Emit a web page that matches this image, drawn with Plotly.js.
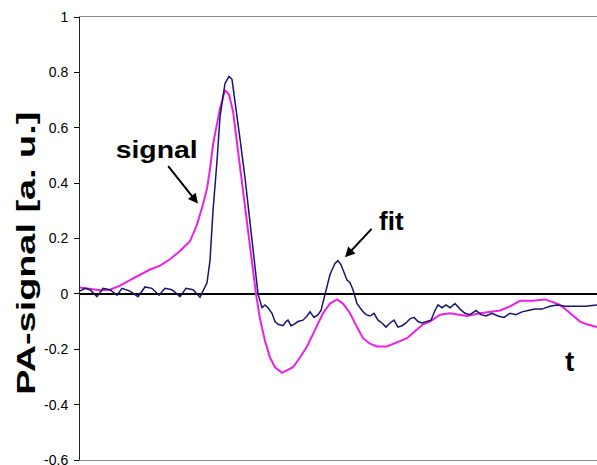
<!DOCTYPE html>
<html>
<head>
<meta charset="utf-8">
<script src="https://cdn.plot.ly/plotly-3.0.1.min.js"></script>
<style>
html,body{margin:0;padding:0;background:#fff;}
#chart{width:597px;height:465px;}
</style>
</head>
<body>
<div id="chart"></div>
<script>
// time axis (arbitrary units) and PA signals
var tSignal = [0,10,20,30,40,50,60,70,80,90,100,110,117,122,127,130,133,137,140,145,149,153,158,163,168,173,176,180,185,190,195,202,208,213,220,227,235,243,250,257,263,270,277,283,290,297,307,317,327,335,343,350,360,370,380,387,400,410,420,430,440,453,465,473,480,487,493,500,507,517];
var signalValues = [0.023,0.018,0.013,0.015,0.03,0.05,0.07,0.088,0.102,0.125,0.155,0.19,0.25,0.31,0.38,0.45,0.54,0.62,0.67,0.736,0.72,0.66,0.52,0.38,0.24,0.09,0.0,-0.09,-0.17,-0.23,-0.265,-0.285,-0.275,-0.265,-0.23,-0.19,-0.13,-0.07,-0.035,-0.02,-0.035,-0.07,-0.12,-0.16,-0.18,-0.19,-0.19,-0.175,-0.16,-0.135,-0.11,-0.10,-0.075,-0.07,-0.075,-0.08,-0.07,-0.065,-0.06,-0.045,-0.025,-0.025,-0.02,-0.03,-0.04,-0.06,-0.08,-0.10,-0.11,-0.12];

var tFit = [0,5,10,17,23,30,37,42,50,58,65,72,79,85,92,100,106,113,120,124,127,130,133,137,140,145,149,152,155,160,165,170,174,178,182,185,188,192,195,198,203,206,208,211,214,218,223,227,230,234,238,241,245,250,255,258,261,264,267,270,273,277,282,286,290,294,298,302,306,310,314,318,322,326,330,334,338,342,347,351,355,358,362,366,370,375,380,385,390,396,401,406,412,418,424,430,436,442,448,455,462,470,477,485,495,505,517];
var fitValues = [0.01,0.02,0.015,-0.01,0.02,0.015,-0.005,0.02,0.01,-0.01,0.025,0.02,-0.005,0.02,0.015,-0.01,0.02,0.015,-0.012,0.02,0.04,0.12,0.30,0.48,0.64,0.76,0.785,0.775,0.70,0.56,0.42,0.27,0.13,0.0,-0.05,-0.04,-0.05,-0.07,-0.10,-0.11,-0.115,-0.10,-0.095,-0.115,-0.11,-0.10,-0.095,-0.08,-0.065,-0.085,-0.075,-0.06,-0.005,0.07,0.11,0.12,0.105,0.08,0.05,0.04,0.015,-0.035,-0.06,-0.075,-0.08,-0.07,-0.095,-0.105,-0.12,-0.105,-0.095,-0.12,-0.115,-0.105,-0.09,-0.085,-0.10,-0.105,-0.10,-0.095,-0.06,-0.04,-0.05,-0.04,-0.05,-0.035,-0.055,-0.07,-0.075,-0.06,-0.075,-0.08,-0.07,-0.08,-0.085,-0.07,-0.075,-0.065,-0.06,-0.055,-0.055,-0.045,-0.04,-0.045,-0.045,-0.045,-0.04];

var yTickVals = [-0.6,-0.4,-0.2,0,0.2,0.4,0.6,0.8,1];
var yTickText = ['-0.6','-0.4','-0.2','0','0.2','0.4','0.6','0.8','1'];

var FONT = 'Liberation Sans, Arial, sans-serif';

var traces = [
  {x: tSignal, y: signalValues, type: 'scatter', mode: 'lines', name: 'signal',
   line: {color: '#ec1fe8', width: 2}},
  {x: tFit, y: fitValues, type: 'scatter', mode: 'lines', name: 'fit',
   line: {color: '#16166a', width: 1.5}}
];

var layout = {
  width: 597, height: 465,
  margin: {l: 80, r: 0, t: 17, b: 5},
  paper_bgcolor: '#fff', plot_bgcolor: '#fff',
  showlegend: false,
  font: {family: FONT, color: '#000'},
  xaxis: {range: [0, 517], showgrid: false, zeroline: false, showticklabels: false,
          ticks: '', showline: true, mirror: true, linecolor: '#8a8a8a', linewidth: 1},
  yaxis: {range: [-0.6, 1], tickvals: yTickVals, ticktext: yTickText,
          ticks: 'outside', ticklen: 5, tickcolor: '#000', tickwidth: 1,
          showline: true, linecolor: '#222', linewidth: 1,
          showgrid: false, zeroline: true, zerolinecolor: '#000', zerolinewidth: 1.5,
          ticklabeloverflow: 'allow',
          tickfont: {family: FONT, size: 14, color: '#000'}, ticklabelstandoff: 3},
  annotations: [
    {text: '<b>PA-signal [a. u.]</b>', xref: 'paper', yref: 'paper', x: -0.106, y: 0.466,
     textangle: -90, showarrow: false, xanchor: 'center', yanchor: 'middle',
     font: {family: FONT, size: 25, color: '#000'}},
    {text: '<b>signal</b>', xref: 'x', yref: 'y', x: 76, y: 0.52, showarrow: false,
     font: {family: FONT, size: 24, color: '#000'}},
    {text: '<b>fit</b>', xref: 'x', yref: 'y', x: 311, y: 0.265, showarrow: false,
     font: {family: FONT, size: 26, color: '#000'}},
    {text: '<b>t</b>', xref: 'x', yref: 'y', x: 489, y: -0.245, showarrow: false,
     font: {family: FONT, size: 28, color: '#000'}},
    {text: '', xref: 'x', yref: 'y', x: 118, y: 0.326, axref: 'x', ayref: 'y', ax: 87, ay: 0.467,
     showarrow: true, arrowhead: 2, arrowsize: 1, arrowwidth: 2, arrowcolor: '#000'},
    {text: '', xref: 'x', yref: 'y', x: 265, y: 0.132, axref: 'x', ayref: 'y', ax: 293, ay: 0.24,
     showarrow: true, arrowhead: 2, arrowsize: 1, arrowwidth: 2, arrowcolor: '#000'}
  ]
};

Plotly.newPlot('chart', traces, layout, {staticPlot: true}).then(function () {
  // stretch the wide-set lettering to the reference proportions
  var texts = document.querySelectorAll('.annotation-text');
  texts.forEach(function (el) {
    var s = el.textContent;
    if (s === 'PA-signal [a. u.]') {
      el.setAttribute('textLength', 283);
      el.setAttribute('lengthAdjust', 'spacingAndGlyphs');
    } else if (s === 'signal') {
      el.setAttribute('textLength', 82);
      el.setAttribute('lengthAdjust', 'spacingAndGlyphs');
    }
  });
});
</script>
</body>
</html>
